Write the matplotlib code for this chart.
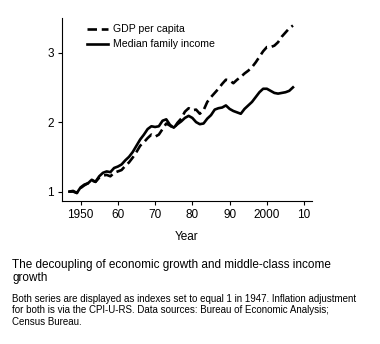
import matplotlib
matplotlib.use("Agg")
import matplotlib.pyplot as plt

plt.rcParams["font.family"] = ["Liberation Sans", "DejaVu Sans"]

# Index values, 1947 = 1
years = list(range(1947, 2008))
gdp_per_capita = [
    1.00, 1.01, 0.98, 1.05, 1.09, 1.12, 1.16, 1.14, 1.20, 1.23,
    1.24, 1.22, 1.27, 1.29, 1.31, 1.37, 1.42, 1.49, 1.57, 1.66,
    1.71, 1.77, 1.82, 1.79, 1.82, 1.90, 1.98, 1.95, 1.91, 1.99,
    2.05, 2.15, 2.20, 2.17, 2.18, 2.12, 2.17, 2.29, 2.36, 2.42,
    2.48, 2.55, 2.61, 2.60, 2.56, 2.61, 2.65, 2.70, 2.74, 2.79,
    2.86, 2.94, 3.02, 3.08, 3.08, 3.10, 3.15, 3.23, 3.29, 3.35,
    3.39,
]
median_family_income = [
    1.00, 1.00, 0.98, 1.06, 1.10, 1.12, 1.17, 1.14, 1.22, 1.27,
    1.29, 1.28, 1.34, 1.36, 1.39, 1.45, 1.50, 1.57, 1.66, 1.75,
    1.82, 1.90, 1.94, 1.93, 1.94, 2.02, 2.04, 1.96, 1.92, 1.97,
    2.01, 2.06, 2.09, 2.06, 2.00, 1.97, 1.98, 2.05, 2.10, 2.18,
    2.20, 2.21, 2.24, 2.19, 2.16, 2.14, 2.12, 2.19, 2.24, 2.29,
    2.36, 2.43, 2.48, 2.48, 2.45, 2.42, 2.41, 2.42, 2.43, 2.45,
    2.50,
]
xticks = [1950, 1960, 1970, 1980, 1990, 2000, 2010]
xtick_labels = ["1950", "60", "70", "80", "90", "2000", "10"]
yticks = [1, 2, 3]

title = "The decoupling of economic growth and middle-class income\ngrowth"
caption = ("Both series are displayed as indexes set to equal 1 in 1947. Inflation adjustment\n"
           "for both is via the CPI-U-RS. Data sources: Bureau of Economic Analysis;\n"
           "Census Bureau.")

fig = plt.figure(figsize=(3.8, 3.44), dpi=100)
ax = fig.add_axes([0.163, 0.416, 0.657, 0.532])

ax.plot(years, gdp_per_capita, color="black", lw=1.9, dashes=(3.6, 1.8),
        label="GDP per capita")
ax.plot(years, median_family_income, color="black", lw=1.9,
        label="Median family income")

ax.set_xlim(1945, 2012)
ax.set_ylim(0.866, 3.5)
ax.set_xticks(xticks)
ax.set_xticklabels(xtick_labels)
ax.set_yticks(yticks)
ax.tick_params(labelsize=8.5, length=3, width=0.8, direction="out", pad=3)
for side in ("top", "right"):
    ax.spines[side].set_visible(False)
for side in ("left", "bottom"):
    ax.spines[side].set_linewidth(0.8)
ax.set_xlabel("Year", fontsize=8.5, labelpad=7)

ax.legend(loc="upper left", bbox_to_anchor=(0.075, 1.0), frameon=False,
          fontsize=7.6, handlelength=2.0, handletextpad=0.5, labelspacing=0.5,
          borderaxespad=0.2)

# title block and source note under the axes
fig.text(0.032, 0.247, title, fontsize=8.5, va="top", ha="left",
         linespacing=1.12)
fig.text(0.032, 0.146, caption, fontsize=7, va="top", ha="left",
         linespacing=1.2)

fig.savefig("out.png", dpi=100)
